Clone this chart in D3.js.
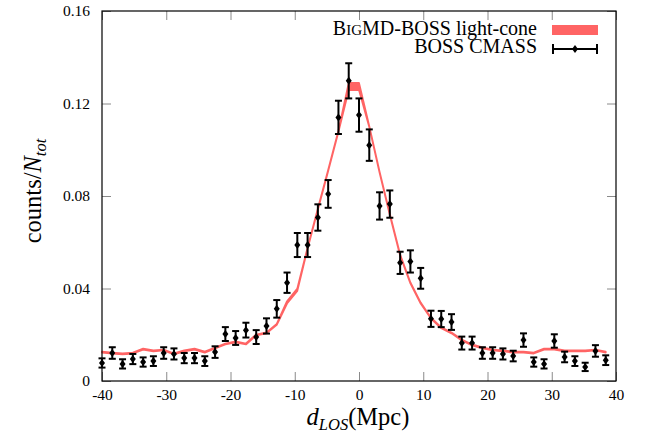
<!DOCTYPE html>
<html><head><meta charset="utf-8">
<script src="https://cdn.jsdelivr.net/npm/d3@7"></script>
<style>body{margin:0;background:#fff}svg{display:block}text{font-family:"Liberation Serif","Times New Roman",serif;fill:#000}</style>
</head><body><svg id="c" width="648" height="437"></svg>
<script>
const binCenters = [-40,-38.4,-36.8,-35.2,-33.6,-32,-30.4,-28.8,-27.2,-25.6,-24,-22.4,-20.8,-19.2,-17.6,-16,-14.4,-12.8,-11.2,-9.6,-8,-6.4,-4.8,-3.2,-1.6,0,1.6,3.2,4.8,6.4,8,9.6,11.2,12.8,14.4,16,17.6,19.2,20.8,22.4,24,25.6,27.2,28.8,30.4,32,33.6,35.2,36.8,38.4];
const cmassValues = [0.0078,0.0121,0.0074,0.0095,0.0082,0.0086,0.0121,0.0117,0.0099,0.0099,0.0086,0.0125,0.0203,0.0186,0.0220,0.0190,0.0238,0.0312,0.0425,0.0588,0.0588,0.0707,0.0809,0.1140,0.1298,0.1150,0.1020,0.0757,0.0765,0.0511,0.0517,0.0444,0.0269,0.0268,0.0255,0.0164,0.0164,0.0121,0.0121,0.0117,0.0108,0.0177,0.0082,0.0074,0.0173,0.0104,0.0086,0.0061,0.0130,0.0090];
const cmassErrors = [0.0020,0.0025,0.0020,0.0022,0.0020,0.0021,0.0025,0.0024,0.0022,0.0022,0.0021,0.0025,0.0030,0.0030,0.0032,0.0030,0.0033,0.0038,0.0044,0.0052,0.0052,0.0057,0.0060,0.0072,0.0076,0.0072,0.0068,0.0059,0.0059,0.0048,0.0048,0.0045,0.0035,0.0035,0.0034,0.0028,0.0028,0.0025,0.0025,0.0024,0.0023,0.0029,0.0020,0.0020,0.0029,0.0023,0.0021,0.0018,0.0025,0.0021];
const modelLow = [0.0123,0.0119,0.0115,0.0119,0.0136,0.0128,0.0132,0.0115,0.0128,0.0136,0.0123,0.0141,0.0158,0.0167,0.0158,0.0197,0.0206,0.0243,0.0335,0.0390,0.0573,0.0742,0.0908,0.1078,0.1258,0.1258,0.1098,0.0901,0.0718,0.0543,0.0422,0.0335,0.0270,0.0228,0.0206,0.0175,0.0154,0.0141,0.0132,0.0128,0.0123,0.0123,0.0119,0.0136,0.0136,0.0128,0.0128,0.0128,0.0132,0.0123];
const modelHigh = [0.0127,0.0123,0.0119,0.0123,0.0140,0.0132,0.0136,0.0119,0.0132,0.0140,0.0127,0.0145,0.0162,0.0171,0.0162,0.0201,0.0210,0.0247,0.0345,0.0400,0.0577,0.0746,0.0912,0.1082,0.1289,0.1289,0.1102,0.0905,0.0722,0.0547,0.0426,0.0339,0.0274,0.0232,0.0210,0.0179,0.0158,0.0145,0.0136,0.0132,0.0127,0.0127,0.0123,0.0140,0.0140,0.0132,0.0132,0.0132,0.0136,0.0127];
const xTicks = [-40,-30,-20,-10,0,10,20,30,40];
const yTicks = [0,0.04,0.08,0.12,0.16];
const yTickLabels = ["0","0.04","0.08","0.12","0.16"];

const svg = d3.select("#c");
const L=102,R=616,T=11,B=381;
const x = d3.scaleLinear().domain([-40,40]).range([L,R]);
const y = d3.scaleLinear().domain([0,0.16]).range([B,T]);
const red = "#ff6464";
const tickCol = "#8a8a8a";

// model band
const area = d3.area().x((d,i)=>x(binCenters[i])).y0((d,i)=>y(modelLow[i])).y1((d,i)=>y(modelHigh[i]));
svg.append("path").datum(modelLow).attr("d",area).attr("fill",red).attr("stroke",red).attr("stroke-width",1.8).attr("stroke-linejoin","round");

// axes
const ax = svg.append("g").attr("transform",`translate(0,${B})`).call(d3.axisBottom(x).tickValues(xTicks).tickFormat(d3.format("d")).tickSizeInner(-9).tickSizeOuter(0).tickPadding(7.5));
const axT = svg.append("g").attr("transform",`translate(0,${T})`).call(d3.axisTop(x).tickValues(xTicks).tickFormat("").tickSizeInner(-9).tickSizeOuter(0));
const ay = svg.append("g").attr("transform",`translate(${L},0)`).call(d3.axisLeft(y).tickValues(yTicks).tickFormat((d,i)=>yTickLabels[i]).tickSizeInner(-9).tickSizeOuter(0).tickPadding(12));
const ayR = svg.append("g").attr("transform",`translate(${R},0)`).call(d3.axisRight(y).tickValues(yTicks).tickFormat("").tickSizeInner(-9).tickSizeOuter(0));
[ax,axT,ay,ayR].forEach(g=>{g.select(".domain").remove();g.selectAll("line").attr("stroke",tickCol);g.selectAll("text").attr("font-family","Liberation Serif").attr("font-size",15.5).attr("fill","#000");});
ax.selectAll("text").text(d=>String(d));

// data points with error bars
const pts = svg.append("g");
binCenters.forEach((c,i)=>{
  const px=x(c), py=y(cmassValues[i]), lo=y(cmassValues[i]-cmassErrors[i]), hi=y(cmassValues[i]+cmassErrors[i]);
  pts.append("line").attr("x1",px).attr("x2",px).attr("y1",lo).attr("y2",hi).attr("stroke","#000").attr("stroke-width",2);
  pts.append("line").attr("x1",px-3.5).attr("x2",px+3.5).attr("y1",lo).attr("y2",lo).attr("stroke","#000").attr("stroke-width",2);
  pts.append("line").attr("x1",px-3.5).attr("x2",px+3.5).attr("y1",hi).attr("y2",hi).attr("stroke","#000").attr("stroke-width",2);
  pts.append("path").attr("d",`M${px},${py-4}L${px+3},${py}L${px},${py+4}L${px-3},${py}Z`).attr("fill","#000");
});

// frame
svg.append("rect").attr("x",L).attr("y",T).attr("width",R-L).attr("height",B-T).attr("fill","none").attr("stroke","#000").attr("stroke-width",1.2);

// legend
const lg = svg.append("g").attr("font-size",20);
const t1 = lg.append("text").attr("x",537).attr("y",35).attr("text-anchor","end");
t1.append("tspan").text("B");
t1.append("tspan").attr("font-size",15).text("IG");
t1.append("tspan").text("MD-BOSS light-cone");
lg.append("text").attr("x",537).attr("y",53).attr("text-anchor","end").text("BOSS CMASS");
lg.append("rect").attr("x",552).attr("y",25).attr("width",46).attr("height",10).attr("fill",red);
lg.append("line").attr("x1",553).attr("x2",597).attr("y1",49).attr("y2",49).attr("stroke","#000").attr("stroke-width",2);
lg.append("line").attr("x1",553).attr("x2",553).attr("y1",44).attr("y2",54).attr("stroke","#000").attr("stroke-width",2);
lg.append("line").attr("x1",597).attr("x2",597).attr("y1",44).attr("y2",54).attr("stroke","#000").attr("stroke-width",2);
lg.append("path").attr("d","M575,45L578,49L575,53L572,49Z").attr("fill","#000");

// axis labels
const xl = svg.append("text").attr("x",358).attr("y",425).attr("text-anchor","middle").attr("font-size",24.5);
xl.append("tspan").attr("font-style","italic").text("d");
xl.append("tspan").attr("font-style","italic").attr("font-size",16.5).attr("dy",4.5).text("LOS");
xl.append("tspan").attr("dy",-4.5).text("(Mpc)");
const yl = svg.append("text").attr("transform","translate(41,191) rotate(-90)").attr("text-anchor","middle").attr("font-size",24.5);
yl.append("tspan").text("counts/");
yl.append("tspan").attr("font-style","italic").text("N");
yl.append("tspan").attr("font-style","italic").attr("font-size",16.5).attr("dy",4.5).text("tot");
</script></body></html>
